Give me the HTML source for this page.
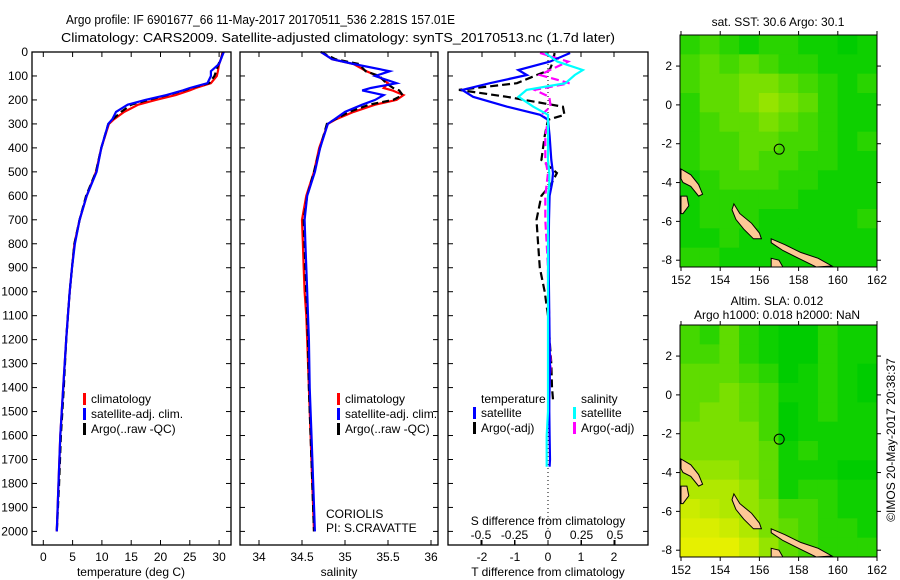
<!DOCTYPE html>
<html><head><meta charset="utf-8"><style>
html,body{margin:0;padding:0;background:#fff;}
svg{display:block;font-family:"Liberation Sans",sans-serif;}
text{font-size:12px;fill:#000;}
</style></head><body>
<svg id="fig" width="900" height="580" viewBox="0 0 900 580" xmlns="http://www.w3.org/2000/svg">
<text x="66" y="24" textLength="389" lengthAdjust="spacingAndGlyphs" style="font-size:13px">Argo profile: IF 6901677_66 11-May-2017 20170511_536 2.281S 157.01E</text>
<text x="61" y="42" textLength="554" lengthAdjust="spacingAndGlyphs" style="font-size:13px">Climatology: CARS2009. Satellite-adjusted climatology: synTS_20170513.nc (1.7d later)</text>
<g id="layer"></g>
<text transform="translate(895,440) rotate(-90)" text-anchor="middle">©IMOS 20-May-2017 20:38:37</text>
</svg>
<script>
// ---------- DATA ----------
const depthTicks=[0,100,200,300,400,500,600,700,800,900,1000,1100,1200,1300,1400,1500,1600,1700,1800,1900,2000];
const tempTicks=[0,5,10,15,20,25,30];
const salTicks=[34,34.5,35,35.5,36];
const tdiffTicks=[-2,-1,0,1,2];
const sdiffTicks=[-0.5,-0.25,0,0.25,0.5];
const sdiffTickLabels=["-0.5","-0.25","0","0.25","0.5"];
const lonTicks=[152,154,156,158,160,162];
const latTicks=[2,0,-2,-4,-6,-8];

const depths=[0,30,50,80,100,130,150,160,180,200,220,250,280,300,400,500,600,700,800,900,1000,1100,1200,1400,1600,1800,2000];
const tempArgo=[30.7,30.3,29.9,29.5,29.2,28.3,25.2,24.0,21.2,17.9,15.0,13.3,11.9,11.1,9.9,9.0,7.3,6.2,5.3,4.9,4.5,4.2,3.9,3.5,3.0,2.7,2.3];
const tempClim=[30.6,30.3,30.0,29.8,29.6,28.6,26.0,25.0,22.6,19.2,16.2,13.8,12.1,11.2,9.9,9.0,7.4,6.2,5.3,4.9,4.5,4.2,3.9,3.4,2.9,2.6,2.3];
const tempSat=[30.8,30.3,30.0,28.6,28.6,28.0,25.0,23.8,21.0,17.4,14.4,12.4,11.8,11.1,9.9,9.1,7.4,6.2,5.4,4.9,4.5,4.2,3.9,3.4,2.9,2.6,2.3];
const salArgo=[34.72,34.89,35.16,35.24,35.40,35.48,35.56,35.63,35.67,35.56,35.28,35.05,34.89,34.79,34.71,34.64,34.56,34.52,34.53,34.54,34.55,34.56,34.57,34.58,34.60,34.62,34.64];
const salClim=[34.72,34.85,35.10,35.25,35.38,35.50,35.45,35.55,35.68,35.60,35.35,35.10,34.90,34.80,34.70,34.64,34.55,34.50,34.51,34.52,34.53,34.55,34.56,34.58,34.60,34.62,34.64];
const salSat=[34.72,34.85,35.10,35.52,35.35,35.60,35.30,35.20,35.45,35.35,35.20,35.00,34.88,34.80,34.71,34.65,34.56,34.53,34.54,34.55,34.56,34.57,34.58,34.59,34.61,34.63,34.65];

const diffDepths=[4,40,75,96,130,158,187,228,262,283,350,450,505,550,600,700,800,900,1000,1100,1200,1300,1400,1450,1500,1600,1700,1730];
const tdiffSat=[0.67,0.06,-0.9,-0.64,-1.76,-2.6,-2.27,-1.24,-0.24,0,0.05,0.1,0.15,0.12,0.05,0.03,0.02,0.02,0.03,0.04,0.05,0.06,0.05,0.04,0.04,0.05,0.06,0.05];
const tdiffArgo=[0.2,0.15,0.05,-0.34,-0.94,-2.7,-1.25,0.45,0.5,0.0,-0.1,-0.2,0.27,0.1,-0.2,-0.35,-0.3,-0.25,-0.1,0.0,0.05,0.1,0.12,0.15,null,null,null,null];
const sdiffSat=[-0.02,0.07,0.26,0.2,0.13,-0.16,-0.22,-0.11,0,0,0,0,0.01,0.01,0,0,0,0,0,0,0,0,0,0,0,-0.01,-0.01,-0.01];
const sdiffArgo=[-0.06,0.15,0.015,-0.06,0.16,-0.1,0.01,0.02,-0.05,0,-0.02,-0.02,0,-0.01,-0.02,-0.02,-0.01,0,0,0.01,0.01,0.02,0.01,0.01,null,null,null,null];

// map colour grids (0 = green, 1 = yellow), rows from north to south, 10 columns
const sstGrid=[
[0.3,0.4,0.3,0.2,0.3,0.3,0.2,0.2,0.1,0.2],
[0.4,0.5,0.4,0.5,0.4,0.3,0.3,0.2,0.2,0.2],
[0.4,0.5,0.5,0.6,0.6,0.5,0.4,0.3,0.2,0.3],
[0.3,0.5,0.5,0.6,0.7,0.6,0.5,0.3,0.2,0.2],
[0.3,0.4,0.5,0.5,0.6,0.5,0.4,0.3,0.2,0.2],
[0.3,0.4,0.4,0.5,0.5,0.4,0.4,0.3,0.2,0.3],
[0.3,0.4,0.4,0.5,0.4,0.4,0.3,0.3,0.2,0.2],
[0.2,0.3,0.4,0.4,0.4,0.3,0.3,0.2,0.2,0.2],
[0.2,0.3,0.3,0.3,0.3,0.3,0.2,0.2,0.2,0.2],
[0.2,0.3,0.3,0.3,0.2,0.2,0.2,0.2,0.2,0.3],
[0.2,0.2,0.3,0.2,0.2,0.2,0.2,0.2,0.2,0.2],
[0.3,0.3,0.2,0.2,0.2,0.2,0.2,0.2,0.2,0.2]];
const slaGrid=[
[0.4,0.3,0.5,0.3,0.2,0.1,0.1,0.3,0.2,0.2],
[0.4,0.4,0.5,0.3,0.2,0.1,0.1,0.3,0.2,0.2],
[0.5,0.5,0.5,0.4,0.3,0.1,0.2,0.3,0.2,0.1],
[0.5,0.5,0.6,0.5,0.4,0.2,0.2,0.3,0.2,0.1],
[0.5,0.6,0.6,0.5,0.4,0.1,0.2,0.3,0.2,0.2],
[0.6,0.6,0.6,0.6,0.4,0.1,0.2,0.2,0.2,0.2],
[0.6,0.6,0.6,0.6,0.5,0.2,0.3,0.2,0.2,0.2],
[0.7,0.7,0.7,0.6,0.5,0.2,0.2,0.2,0.1,0.1],
[0.8,0.8,0.8,0.7,0.5,0.2,0.3,0.3,0.2,0.2],
[0.9,0.85,0.8,0.7,0.6,0.4,0.4,0.3,0.2,0.2],
[0.95,0.95,0.9,0.8,0.6,0.5,0.4,0.3,0.3,0.2],
[1.0,1.0,1.0,0.9,0.7,0.5,0.4,0.3,0.3,0.3]];
// land outlines in lon/lat
const landNewIreland=[[152,-3.3],[152.5,-3.6],[152.9,-4.1],[153.1,-4.6],[152.9,-4.7],[152.5,-4.2],[152.1,-4.0],[152,-3.8]];
const landNewBritain=[[152,-4.7],[152.3,-4.7],[152.4,-5.2],[152.1,-5.6],[152,-5.6]];
const landBougainville=[[154.7,-5.1],[155.0,-5.6],[155.6,-6.1],[156.0,-6.6],[156.1,-6.9],[155.7,-6.9],[155.2,-6.4],[154.8,-5.9],[154.6,-5.4]];
const landSolomons=[[156.6,-6.9],[157.3,-7.2],[158.1,-7.6],[159.0,-7.9],[159.7,-8.3],[158.9,-8.35],[158.0,-7.9],[157.2,-7.5],[156.6,-7.1]];
const landGuadal=[[156.6,-7.9],[157.0,-8.0],[157.2,-8.35],[156.6,-8.35]];
const argoPos=[157.01,-2.281];

// ---------- drawing ----------
const NS="http://www.w3.org/2000/svg";
const layer=document.getElementById('layer');
function mk(tag,attrs,parent){const e=document.createElementNS(NS,tag);for(const k in attrs)e.setAttribute(k,attrs[k]);(parent||layer).appendChild(e);return e;}
const Y0=52,YB=545;
function yD(d){return Y0+d*0.2397;}
function xT(t){return 43.3+t*5.86;}
function xS(s){return 259+(s-34)*86;}
function xTD(v){return 548+v*33;}
function xSD(v){return 548+v*134;}

function box(x0,x1,y0,y1,name){
  const r=mk('rect',{x:x0,y:y0,width:x1-x0,height:y1-y0,fill:'none',stroke:'#000','stroke-width':1.3});
  
  
}
function line(vals,xf,ys,color,dash,name,w){
  let d='',pen=false;
  for(let i=0;i<vals.length;i++){
    if(vals[i]===null){pen=false;continue;}
    d+=(pen?'L':'M')+xf(vals[i]).toFixed(1)+' '+yD(ys[i]).toFixed(1);pen=true;
  }
  const p=mk('path',{d:d,fill:'none',stroke:color,'stroke-width':w||2.2});
  if(dash)p.setAttribute('stroke-dasharray',dash);
  
  
}
function xticks(ticks,xf,x0,x1,labels,ly,name){
  ticks.forEach((t,i)=>{
    const x=xf(t);
    mk('line',{x1:x,x2:x,y1:YB,y2:YB-5,stroke:'#000'});
    mk('line',{x1:x,x2:x,y1:Y0,y2:Y0+5,stroke:'#000'});
    if(labels){const tx=mk('text',{x:x,y:ly,'text-anchor':'middle'});tx.textContent=labels[i];
      
      }
  });
}
function yticks(x0,x1,labels){
  depthTicks.forEach(d=>{
    const y=yD(d);
    mk('line',{x1:x0,x2:x0+5,y1:y,y2:y,stroke:'#000'});
    mk('line',{x1:x1,x2:x1-5,y1:y,y2:y,stroke:'#000'});
    if(labels){const tx=mk('text',{x:x0-4,y:y+4,'text-anchor':'end'});tx.textContent=d;
      
      }
  });
}
function txt(x,y,s,name,anchor){const t=mk('text',{x:x,y:y});if(anchor)t.setAttribute('text-anchor',anchor);t.textContent=s;
  
  return t;}
function legend(x,y,items){
  items.forEach((it,i)=>{
    const r=mk('rect',{x:x,y:y+i*15-10,width:3,height:12,fill:it[1]});
    
    
    txt(x+8,y+i*15,it[0],'legend-entry');
  });
}

// Panel 1 temperature
yticks(32,231,true);
xticks(tempTicks,xT,32,231,tempTicks.map(String),561,'temperature-tick');
line(tempClim,xT,depths,'#f00',null,'temperature-climatology-line');
line(tempArgo,xT,depths,'#000','7 4','temperature-argo-line');
line(tempSat,xT,depths,'#00f',null,'temperature-satellite-line');
box(32,231,Y0,YB,'temperature-panel');
txt(131,576,'temperature (deg C)','temperature-axis-title','middle');
legend(83,403,[['climatology','#f00'],['satellite-adj. clim.','#00f'],['Argo(..raw -QC)','#000']]);

// Panel 2 salinity
yticks(240,438,false);
xticks(salTicks,xS,240,438,salTicks.map(String),561,'salinity-tick');
line(salClim,xS,depths,'#f00',null,'salinity-climatology-line');
line(salArgo,xS,depths,'#000','7 4','salinity-argo-line');
line(salSat,xS,depths,'#00f',null,'salinity-satellite-line');
box(240,438,Y0,YB,'salinity-panel');
txt(339,576,'salinity','salinity-axis-title','middle');
legend(337,403,[['climatology','#f00'],['satellite-adj. clim.','#00f'],['Argo(..raw -QC)','#000']]);
txt(326,518,'CORIOLIS','data-centre-label');
txt(326,532,'PI: S.CRAVATTE','pi-label');

// Panel 3 differences
yticks(448,648,false);
xticks(tdiffTicks,xTD,448,648,tdiffTicks.map(String),561,'tdiff-tick');
sdiffTicks.forEach((t,i)=>{const x=xSD(t);mk('line',{x1:x,x2:x,y1:YB,y2:YB-5,stroke:'#000'});
  txt(x,539,sdiffTickLabels[i],'sdiff-tick-label','middle');});
mk('line',{x1:548,x2:548,y1:Y0,y2:yD(2000),stroke:'#000','stroke-dasharray':'1 3'});
line(tdiffArgo,xTD,diffDepths,'#000','8 4','tdiff-argo-line');
line(sdiffArgo,xSD,diffDepths,'#f0f','8 4','sdiff-argo-line');
line(tdiffSat,xTD,diffDepths,'#00f',null,'tdiff-satellite-line');
line(sdiffSat,xSD,diffDepths,'#0ff',null,'sdiff-satellite-line');
box(448,648,Y0,YB,'difference-panel');
txt(548,525,'S difference from climatology','sdiff-axis-title','middle');
txt(548,576,'T difference from climatology','tdiff-axis-title','middle');
txt(481,403,'temperature','legend-temperature-heading');
txt(581,403,'salinity','legend-salinity-heading');
legend(473,417,[['satellite','#00f'],['Argo(-adj)','#000']]);
legend(573,417,[['satellite','#0ff'],['Argo(-adj)','#f0f']]);

// Maps
function colorOf(v){
  const r=Math.round(-40+v*270), g=Math.round(200+v*40), b=0;
  return 'rgb('+Math.max(0,r)+','+g+','+b+')';
}
function drawMap(grid,top,name,title1,title2){
  const x0=680,x1=877,y1=top+232;
  const xL=lon=>681+(lon-152)*19.6;
  const latTop=3.6,latBot=-8.35;
  const yL=lat=>top+(latTop-lat)*(232/(latTop-latBot));
  const g=mk('g',{});
  
  
  const rows=grid.length,cols=grid[0].length,cw=(x1-x0)/cols,ch=232/rows;
  grid.forEach((row,ri)=>row.forEach((v,ci)=>{
    const c=mk('rect',{x:x0+ci*cw,y:top+ri*ch,width:cw+0.5,height:ch+0.5,fill:colorOf(v)},g);
    
    
  }));
  [landNewIreland,landNewBritain,landBougainville,landSolomons,landGuadal].forEach(poly=>{
    const p=mk('polygon',{points:poly.map(q=>xL(q[0]).toFixed(1)+','+yL(q[1]).toFixed(1)).join(' '),fill:'#fdc896',stroke:'#000','stroke-width':1},g);
    
    
  });
  const c=mk('circle',{cx:xL(argoPos[0]),cy:yL(argoPos[1]),r:5,fill:'none',stroke:'#000','stroke-width':1},g);
  
  
  const b=mk('rect',{x:x0,y:top,width:x1-x0,height:232,fill:'none',stroke:'#000','stroke-width':1},g);
  lonTicks.forEach(l=>{const x=xL(l);mk('line',{x1:x,x2:x,y1:top,y2:top-4,stroke:'#000'});mk('line',{x1:x,x2:x,y1:y1,y2:y1+4,stroke:'#000'});
    txt(x,y1+17,String(l),'map-lon-tick-label','middle');});
  latTicks.forEach(l=>{const y=yL(l);mk('line',{x1:x0,x2:x0-4,y1:y,y2:y,stroke:'#000'});mk('line',{x1:x1,x2:x1+4,y1:y,y2:y,stroke:'#000'});
    txt(x0-8,y+4,String(l),'map-lat-tick-label','end');});
  if(title2){txt(777,top-20,title1,name+'-title','middle');txt(777,top-6,title2,name+'-subtitle','middle');}
  else txt(778,top-9,title1,name+'-title','middle');
}
drawMap(sstGrid,35,'sst-map','sat. SST: 30.6 Argo: 30.1');
drawMap(slaGrid,325,'sla-map','Altim. SLA: 0.012','Argo h1000: 0.018 h2000: NaN');
</script>
</body></html>
